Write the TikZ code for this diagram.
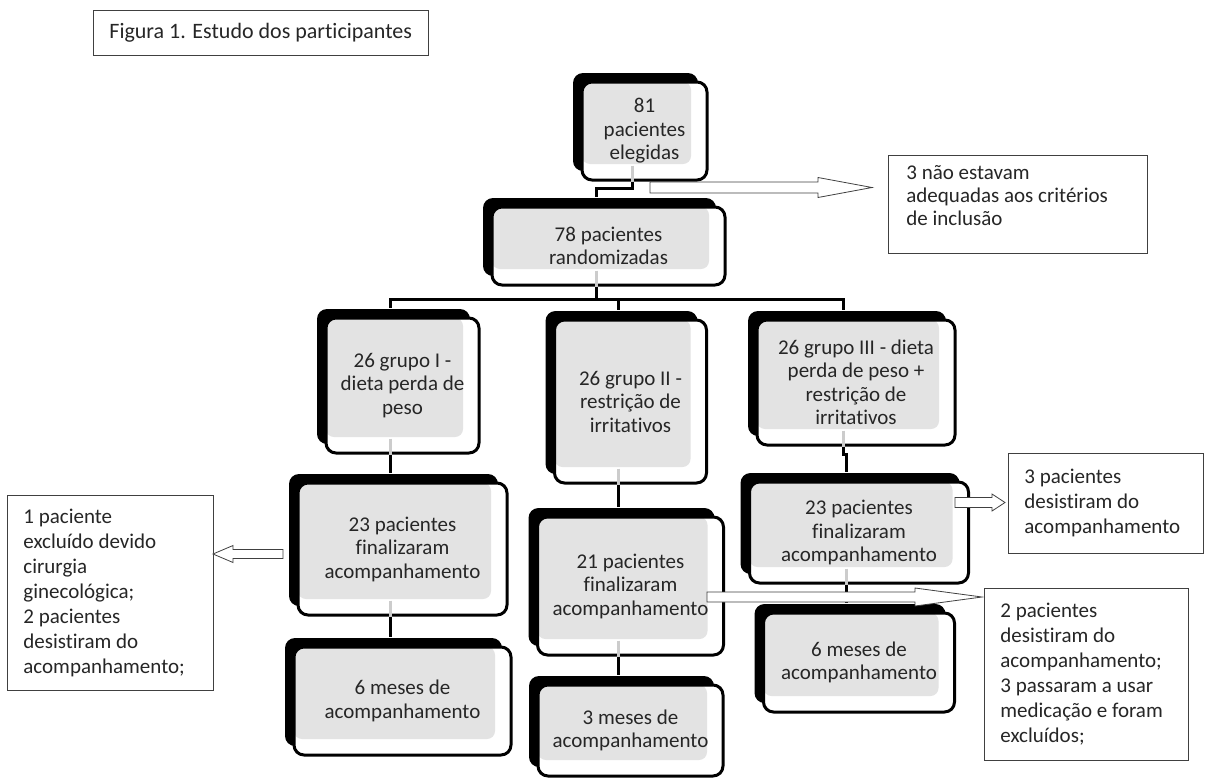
\documentclass[tikz,border=0pt]{standalone}
\usepackage{fontspec}
\setmainfont{Carlito}[Ligatures=NoCommon]
\usepackage{tikz}
\usetikzlibrary{calc,shadows}
\newcommand{\blockarrow}[5]{% start, tip, half shaft, half head, head length
	\path ($(#2)!#5!(#1)$) coordinate (hb);
	\draw[harrow] ($(#1)+(0,#3)$) -- ($(hb)+(0,#3)$) -- ($(hb)+(0,#4)$) -- (#2)
	-- ($(hb)+(0,-#4)$) -- ($(hb)+(0,-#3)$) -- ($(#1)+(0,-#3)$) -- cycle;}

\begin{document}
\begin{tikzpicture}[x=1pt,y=-1pt,
		pbox/.style={draw,line width=3pt,fill=white,rounded corners=10pt,align=center,
			font=\fontsize{21}{23.5}\selectfont,text=black!85,inner sep=0pt,
			general shadow={fill=black,shadow xshift=-9pt,shadow yshift=9pt},
			path picture={\fill[black!11,rounded corners=8pt] (path picture bounding box.north west)
				rectangle ([xshift=-16pt,yshift=16pt]path picture bounding box.south east);}},
		notebox/.style={draw=black!75,line width=0.8pt,fill=white,align=flush left,anchor=north west,
			inner xsep=16pt,text=black!85,font=\fontsize{21}{25}\selectfont},
		titlebox/.style={draw=black!75,line width=0.8pt,inner xsep=16pt,minimum height=45pt,
			anchor=north west,text=black!85,font=\fontsize{22}{26}\selectfont},
		link/.style={line width=3pt},
		stub/.style={line width=3pt,black!20},
		harrow/.style={draw=black!75,fill=white,line width=0.8pt}]
	\useasboundingbox (0,0) rectangle (1206,779);

	\node[titlebox] (fig) at (93,10) {Figura 1. Estudo dos participantes};

	% main column
	\node[pbox,minimum width=125pt,minimum height=98pt] (n81) at (644.5,131) {81\\pacientes\\elegidas};
	\node[pbox,minimum width=233pt,minimum height=78pt] (n78) at (608.5,246) {78 pacientes\\randomizadas};
	\node[pbox,minimum width=153pt,minimum height=135pt] (g1) at (402.5,385.5) {26 grupo I -\\dieta perda de\\peso};
	\node[pbox,minimum width=152pt,minimum height=163pt] (g2) at (630.5,401.5) {26 grupo II -\\restrição de\\irritativos};
	\node[pbox,minimum width=198pt,minimum height=125pt] (g3) at (856,382.5) {26 grupo III - dieta\\perda de peso +\\restrição de\\irritativos};
	\node[pbox,minimum width=209pt,minimum height=132pt] (f1) at (402.5,549) {23 pacientes\\finalizaram\\acompanhamento};
	\node[pbox,minimum width=186pt,minimum height=138pt] (f2) at (630.5,586) {21 pacientes\\finalizaram\\acompanhamento};
	\node[pbox,minimum width=219pt,minimum height=101pt] (f3) at (859,532.5) {23 pacientes\\finalizaram\\acompanhamento};
	\node[pbox,minimum width=217pt,minimum height=108pt] (m1) at (402.5,701) {6 meses de\\acompanhamento};
	\node[pbox,minimum width=185pt,minimum height=91pt] (m2) at (630.5,730.5) {3 meses de\\acompanhamento};
	\node[pbox,minimum width=191pt,minimum height=99pt] (m3) at (859,662.5) {6 meses de\\acompanhamento};

	% side notes
	\node[notebox,text width=223pt,minimum height=98pt,inner xsep=18pt,font=\fontsize{21}{23}\selectfont] (x1) at (888,155)
		{3 não estavam\\adequadas aos critérios\\de inclusão\par\vspace{18pt}\hrule height0pt};
	\node[notebox,text width=174pt,minimum height=195pt] (x2) at (7,495)
		{1 paciente\\excluído devido\\cirurgia\\ginecológica;\\2 pacientes\\desistiram do\\acompanhamento;};
	\node[notebox,text width=163pt,minimum height=100pt] (x3) at (1008,453)
		{3 pacientes\\desistiram do\\acompanhamento};
	\node[notebox,text width=172pt,minimum height=172pt] (x4) at (984,588)
		{2 pacientes\\desistiram do\\acompanhamento;\\3 passaram a usar\\medicação e foram\\excluídos;};

	% connectors
	\draw[stub]
		([xshift=-12.5pt,yshift=16pt]n81.south) -- ([xshift=-12.5pt]n81.south)
		([xshift=-12.5pt,yshift=16pt]n78.south) -- ([xshift=-12.5pt]n78.south)
		([xshift=-12.5pt,yshift=16pt]g1.south) -- ([xshift=-12.5pt]g1.south)
		([xshift=-12.5pt,yshift=16pt]g2.south) -- ([xshift=-12.5pt]g2.south)
		([xshift=-12.5pt,yshift=16pt]g3.south) -- ([xshift=-12.5pt]g3.south)
		([xshift=-12.5pt,yshift=16pt]f1.south) -- ([xshift=-12.5pt]f1.south)
		([xshift=-12.5pt,yshift=16pt]f2.south) -- ([xshift=-12.5pt]f2.south)
		([xshift=-12.5pt,yshift=16pt]f3.south) -- ([xshift=-12.5pt]f3.south);
	\draw[link]
		([xshift=-12.5pt]n81.south) -- ++(0,7) -| ([xshift=-12.5pt,yshift=9pt]n78.north)
		([xshift=-12.5pt]n78.south) -- ++(0,13) -| ([xshift=-12.5pt,yshift=9pt]g1.north)
		([xshift=-12.5pt]n78.south) -- ++(0,13) -| ([xshift=-12.5pt,yshift=9pt]g2.north)
		([xshift=-12.5pt]n78.south) -- ++(0,13) -| ([xshift=-12.5pt,yshift=9pt]g3.north)
		([xshift=-12.5pt]g1.south) -- ++(0,10) -| ([xshift=-12.5pt,yshift=9pt]f1.north)
		([xshift=-12.5pt]g2.south) -- ++(0,10) -| ([xshift=-12.5pt,yshift=9pt]f2.north)
		([xshift=-12.5pt]g3.south) -- ++(0,8) -| ([xshift=-12.5pt,yshift=9pt]f3.north)
		([xshift=-12.5pt]f1.south) -- ++(0,10) -| ([xshift=-12.5pt,yshift=9pt]m1.north)
		([xshift=-12.5pt]f2.south) -- ++(0,10) -| ([xshift=-12.5pt,yshift=9pt]m2.north)
		([xshift=-12.5pt]f3.south) -- ++(0,10) -| ([xshift=-12.5pt,yshift=9pt]m3.north);

	% hollow arrows
	\coordinate (a1) at (650,187.5);  \coordinate (a1t) at (872,187.5);
	\coordinate (a2) at (955,502.5);  \coordinate (a2t) at (1005,502.5);
	\coordinate (a3) at (283,554);    \coordinate (a3t) at (213,554);
	\coordinate (a4) at (707,597);    \coordinate (a4t) at (982,597);
	\blockarrow{a1}{a1t}{5.5}{10}{54pt}
	\blockarrow{a2}{a2t}{5}{8.5}{13pt}
	\blockarrow{a3}{a3t}{4.5}{8.5}{20pt}
	\blockarrow{a4}{a4t}{5}{9}{67pt}
\end{tikzpicture}
\end{document}
